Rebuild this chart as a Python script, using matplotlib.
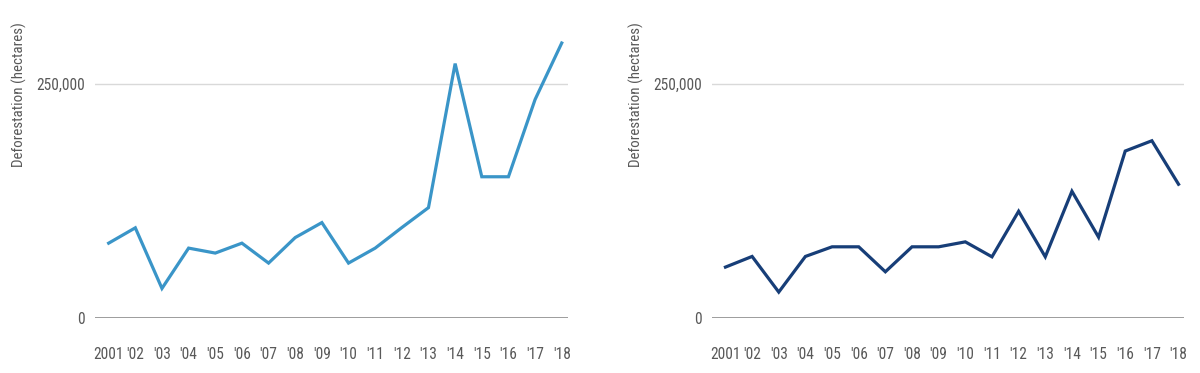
import matplotlib
matplotlib.use("Agg")
import matplotlib.pyplot as plt
from matplotlib import font_manager
from matplotlib.ticker import FuncFormatter

# look for a narrow sans face, the chart uses a condensed font
fonts = font_manager.fontManager.ttflist
pick = None
for want in ["Roboto Condensed", "Liberation Sans Narrow", "Open Sans Condensed",
             "Noto Sans Condensed", "Noto Sans SemiCondensed"]:
    hits = [f for f in fonts if f.name == want and f.weight in (400, 'normal', 'regular') and f.style == 'normal']
    if hits:
        pick = hits[0]
        break
if pick is None:
    for f in fonts:
        st = f.stretch
        narrow = st in ('condensed', 'semi-condensed') or (isinstance(st, int) and 300 <= st < 500)
        if narrow and f.style == 'normal' and f.weight in (400, 'normal', 'regular') and 'Mono' not in f.name:
            if 'DejaVu' not in f.name or pick is None:
                pick = f
if pick is not None:
    fp = font_manager.FontProperties(fname=pick.fname)
else:
    fp = font_manager.FontProperties(family='DejaVu Sans', stretch='condensed')

years = ["2001", "'02", "'03", "'04", "'05", "'06", "'07", "'08", "'09",
         "'10", "'11", "'12", "'13", "'14", "'15", "'16", "'17", "'18"]

# deforestation in hectares
left_vals = [80000, 96400, 31600, 74700, 69400, 80000, 58700, 86000, 102000,
             58700, 74700, 96700, 118000, 272000, 151000, 151000, 233600, 294000]
right_vals = [54400, 65800, 27700, 65800, 76100, 76100, 49400, 76100, 76100,
              81400, 65400, 114100, 65400, 135500, 86400, 178500, 189500, 143000]

left_color = "#3a95c8"
right_color = "#173e78"
text_color = "#595959"

fig = plt.figure(figsize=(12, 3.73), dpi=100)

def draw(ax, vals, color):
    x = range(len(vals))
    ax.plot(x, vals, color=color, lw=2.3, solid_joinstyle='miter', zorder=3)
    ax.set_ylim(0, 340000)
    ax.set_xlim(-0.52, 17.22)
    ax.set_yticks([0, 250000])
    ax.yaxis.set_major_formatter(FuncFormatter(lambda v, p: f"{int(v):,}"))
    ax.set_xticks(list(x))
    ax.set_xticklabels(years)
    ax.axhline(250000, color="#d9d9d9", lw=1, zorder=1)
    ax.axhline(0, color="#8c8c8c", lw=1.2, zorder=2)
    for s in ax.spines.values():
        s.set_visible(False)
    ax.tick_params(length=0, colors=text_color)
    ax.tick_params(axis='y', pad=7)
    ax.tick_params(axis='x', pad=21)
    for lab in ax.get_xticklabels() + ax.get_yticklabels():
        lab.set_fontproperties(fp)
        lab.set_fontsize(11.2)
    ax.text(-0.16, 0.93, "Deforestation (hectares)", transform=ax.transAxes,
            rotation=90, ha='center', va='top', fontproperties=fp,
            fontsize=10.8, color=text_color)

ax1 = fig.add_axes([0.079, 0.1475, 0.394, 0.8525])
draw(ax1, left_vals, left_color)
ax2 = fig.add_axes([0.593, 0.1475, 0.394, 0.8525])
draw(ax2, right_vals, right_color)

fig.savefig("out.png", dpi=100)
